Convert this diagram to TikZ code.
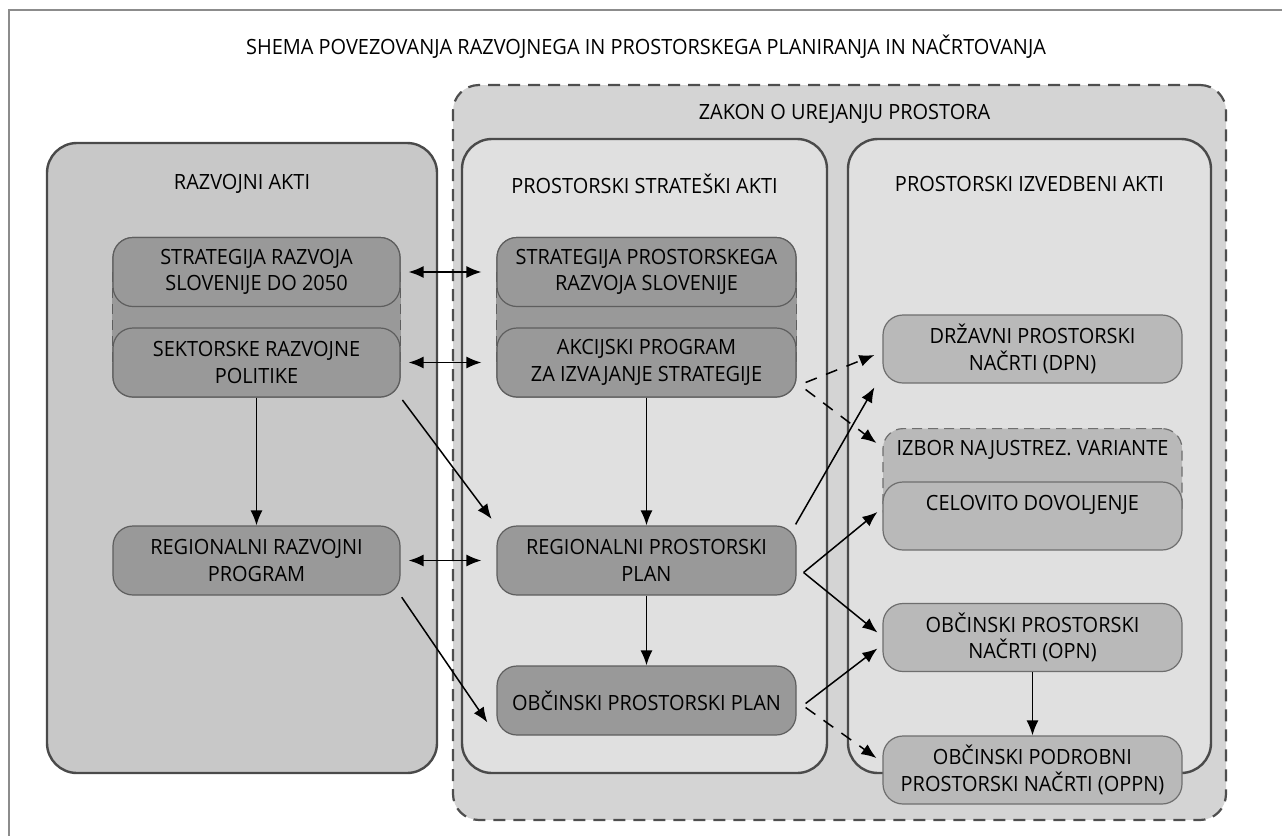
\documentclass[tikz,border=0pt]{standalone}
\usepackage{fontspec}
\setmainfont{Open Sans}[FakeStretch=0.95]
\usetikzlibrary{arrows.meta,calc,positioning}

\definecolor{framegray}{HTML}{8C8C8C}
\definecolor{zakonfill}{HTML}{D4D4D4}
\definecolor{dashgray}{HTML}{4E4E4E}
\definecolor{razvojfill}{HTML}{C8C8C8}
\definecolor{prostorfill}{HTML}{E0E0E0}
\definecolor{groupline}{HTML}{4A4A4A}
\definecolor{actfill}{HTML}{999999}
\definecolor{actline}{HTML}{5E5E5E}
\definecolor{planfill}{HTML}{B9B9B9}
\definecolor{planline}{HTML}{6E6E6E}

\begin{document}
\begin{tikzpicture}[x=0.5pt, y=-0.5pt, font=\fontsize{10.5}{13.3}\selectfont, >={Latex[length=7.5pt,width=6pt]}]
        \tikzstyle{group}=[rectangle, rounded corners=15pt, draw=groupline, line width=1.2pt, inner sep=0pt]
        \tikzstyle{act}=[rectangle, rounded corners=10pt, draw=actline, line width=0.6pt, fill=actfill, align=center, minimum width=143.5pt, minimum height=34.5pt, inner sep=0pt]
        \tikzstyle{plan}=[act, fill=planfill, draw=planline, minimum width=149.5pt, minimum height=34pt]
        \tikzstyle{link}=[->, line width=0.75pt]
        \tikzstyle{dlink}=[link, dash pattern=on 6pt off 5pt]

        \useasboundingbox (0,0) rectangle (1282,836);
        \draw[framegray, line width=1pt] (1282,10) -- (9,10) -- (9,836);

        \node (title) at (646,47) {SHEMA POVEZOVANJA RAZVOJNEGA IN PROSTORSKEGA PLANIRANJA IN NAČRTOVANJA};

        % zakon o urejanju prostora
        \node[group, draw=dashgray, line width=1.1pt, dash pattern=on 6pt off 4pt, fill=zakonfill, rounded corners=13pt, minimum width=386.5pt, minimum height=367.5pt] (zakon) at (839.5,452.5) {};
        \node (zakontitle) at ($(zakon.north)+(5,30)$) {ZAKON O UREJANJU PROSTORA};

        % three groups of acts
        \node[group, fill=razvojfill, minimum width=195pt, minimum height=315pt] (razvoj) at (242,458) {};
        \node[group, fill=prostorfill, minimum width=182.5pt, minimum height=317pt] (strat) at (644.5,456) {};
        \node[group, fill=prostorfill, minimum width=181.5pt, minimum height=317pt] (izved) at (1029.5,456) {};
        \node (razvojtitle) at ($(razvoj.north)+(0,42)$) {RAZVOJNI AKTI};
        \node (strattitle) at ($(strat.north)+(0,46)$) {PROSTORSKI STRATEŠKI AKTI};
        \node (izvedtitle) at ($(izved.north)+(0,46)$) {PROSTORSKI IZVEDBENI AKTI};

        % razvojni akti
        \node[act] (strat1) at (256.5,272) {STRATEGIJA RAZVOJA\\SLOVENIJE DO 2050};
        \node[act] (sektor) at (256.5,362.5) {SEKTORSKE RAZVOJNE\\POLITIKE};
        \node[act] (regprog) at (256.5,560.5) {REGIONALNI RAZVOJNI\\PROGRAM};
        \fill[actfill] (strat1.west) rectangle (sektor.east);
        \draw[actline, line width=0.6pt, dash pattern=on 5pt off 3pt] (strat1.west) -- (sektor.west) (strat1.east) -- (sektor.east);
        \node[act] at (strat1) {STRATEGIJA RAZVOJA\\SLOVENIJE DO 2050};
        \node[act] at (sektor) {SEKTORSKE RAZVOJNE\\POLITIKE};

        % prostorski strateski akti
        \node[act, minimum width=149.5pt] (sprs) at (646.5,272) {STRATEGIJA PROSTORSKEGA\\RAZVOJA SLOVENIJE};
        \node[act, minimum width=149.5pt] (akcij) at (646.5,362.5) {AKCIJSKI PROGRAM\\ZA IZVAJANJE STRATEGIJE};
        \fill[actfill] (sprs.west) rectangle (akcij.east);
        \draw[actline, line width=0.6pt, dash pattern=on 5pt off 3pt] (sprs.west) -- (akcij.west) (sprs.east) -- (akcij.east);
        \node[act, minimum width=149.5pt] at (sprs) {STRATEGIJA PROSTORSKEGA\\RAZVOJA SLOVENIJE};
        \node[act, minimum width=149.5pt] at (akcij) {AKCIJSKI PROGRAM\\ZA IZVAJANJE STRATEGIJE};
        \node[act, minimum width=149.5pt] (rpp) at (646.5,560.5) {REGIONALNI PROSTORSKI\\PLAN};
        \node[act, minimum width=149.5pt] (opp) at (646.5,700.5) {OBČINSKI PROSTORSKI PLAN};

        % prostorski izvedbeni akti
        \node[plan] (dpn) at (1032.5,349) {DRŽAVNI PROSTORSKI\\NAČRTI (DPN)};
        \node[plan, dash pattern=on 5pt off 3pt, minimum height=50pt, anchor=north] (izbor) at (1032.5,428) {};
        \node (izbortext) at ($(izbor.north)+(0,22)$) {IZBOR NAJUSTREZ. VARIANTE};
        \node[plan] (celovito) at (1032.5,516) {CELOVITO DOVOLJENJE\\\phantom{X}};
        \node[plan] (opn) at (1032.5,637.5) {OBČINSKI PROSTORSKI\\NAČRTI (OPN)};
        \node[plan] (oppn) at (1032.5,770) {OBČINSKI PODROBNI\\PROSTORSKI NAČRTI (OPPN)};

        % connectors
        \coordinate (rppout) at ($(rpp.east)+(7,12)$);
        \coordinate (oppout) at ($(opp.east)+(9,3)$);

        \draw[link, <->, shorten <=4pt, shorten >=7.5pt] (strat1) -- (sprs);
        \draw[link, <->, shorten <=4pt, shorten >=7.5pt] (sektor) -- (akcij);
        \draw[link, <->, shorten <=4pt, shorten >=7.5pt] (regprog) -- (rpp);
        \draw[link] (sektor) -- (regprog);
        \draw[link, shorten <=1.5pt, shorten >=4pt] (sektor.south east) -- (rpp.north west);
        \draw[link, shorten <=1pt, shorten >=8pt] (regprog.south east) -- (opp.south west);
        \draw[link] (akcij) -- (rpp);
        \draw[link] (rpp) -- (opp);
        \draw[link] (opn) -- (oppn);

        \draw[dlink] ($(akcij.east)+(9,20)$) -- ($(dpn.west)+(-8,6)$);
        \draw[dlink] ($(akcij.east)+(9,27)$) -- ($(izbor.north west)+(-6,15)$);
        \draw[link, shorten >=1pt] ($(rpp.north east)+(-1,-1)$) -- ($(dpn.south west)+(-7,2)$);
        \draw[link] (rppout) -- ($(celovito.west)+(-5,-4)$);
        \draw[link] (rppout) -- ($(opn.west)+(-5,-5)$);
        \draw[link] (oppout) -- ($(opn.west)+(-5,11)$);
        \draw[dlink] ($(oppout)+(0,4)$) -- ($(oppn.west)+(-6,-12)$);
\end{tikzpicture}
\end{document}
